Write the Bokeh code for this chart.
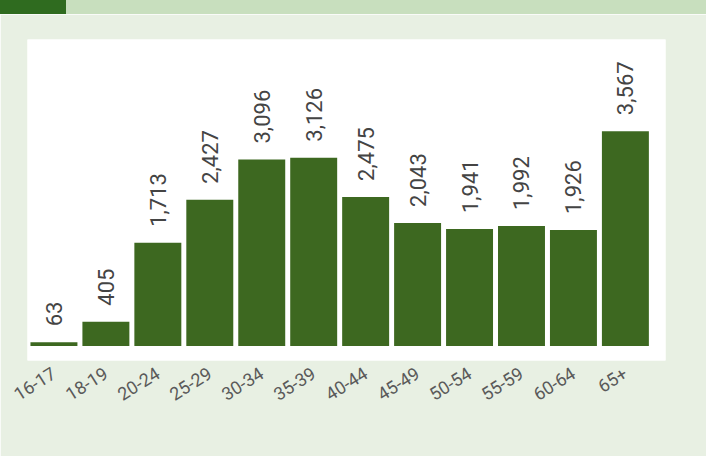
from math import pi
from bokeh.plotting import figure
from bokeh.models import Range1d, FixedTicker, ColumnDataSource, Div
from bokeh.layouts import column
from bokeh.core.properties import value
from bokeh.embed import file_html
from bokeh.resources import INLINE

categories = ["16-17", "18-19", "20-24", "25-29", "30-34", "35-39", "40-44",
              "45-49", "50-54", "55-59", "60-64", "65+"]
counts = [63, 405, 1713, 2427, 3096, 3126, 2475, 2043, 1941, 1992, 1926, 3567]

xs = list(range(len(categories)))
labels = [f"{v:,}" for v in counts]
src = ColumnDataSource(dict(x=xs, top=counts, label=labels))

BG = "#e8f0e3"

p = figure(width=706, height=442, output_backend="svg", toolbar_location=None,
           x_range=Range1d(-0.509, 11.772), y_range=Range1d(-240, 5088),
           min_border_left=27, min_border_right=41, min_border_top=25,
           min_border_bottom=96)
p.background_fill_color = "white"
p.border_fill_color = BG
p.outline_line_color = None
p.grid.visible = False
p.yaxis.visible = False

p.vbar(x="x", top="top", bottom=0, width=0.904, source=src,
       fill_color="#3d6820", line_color=None)
p.text(x="x", y="top", text="label", source=src, angle=pi / 2,
       text_align="left", text_baseline="middle", y_offset=-16,
       text_font=value("Roboto"), text_font_size="22px", text_color="#444444")

ax = p.xaxis[0]
ax.ticker = FixedTicker(ticks=xs)
ax.major_label_overrides = {i: c for i, c in zip(xs, categories)}
ax.major_label_orientation = 0.56
ax.axis_line_color = None
ax.major_tick_line_color = None
ax.minor_tick_line_color = None
ax.major_label_standoff = 5
ax.major_label_text_font = "Roboto"
ax.major_label_text_font_size = "18px"
ax.major_label_text_color = "#5a5a5a"

top_bar = Div(width=706, height=14,
              text='<div style="width:66px;height:14px;background:#2f6b1f"></div>',
              styles={"background": "#c8dfbe", "margin": "0", "padding": "0"})

layout = column(top_bar, p, spacing=0)
open("out.html", "w").write(file_html(layout, INLINE))
